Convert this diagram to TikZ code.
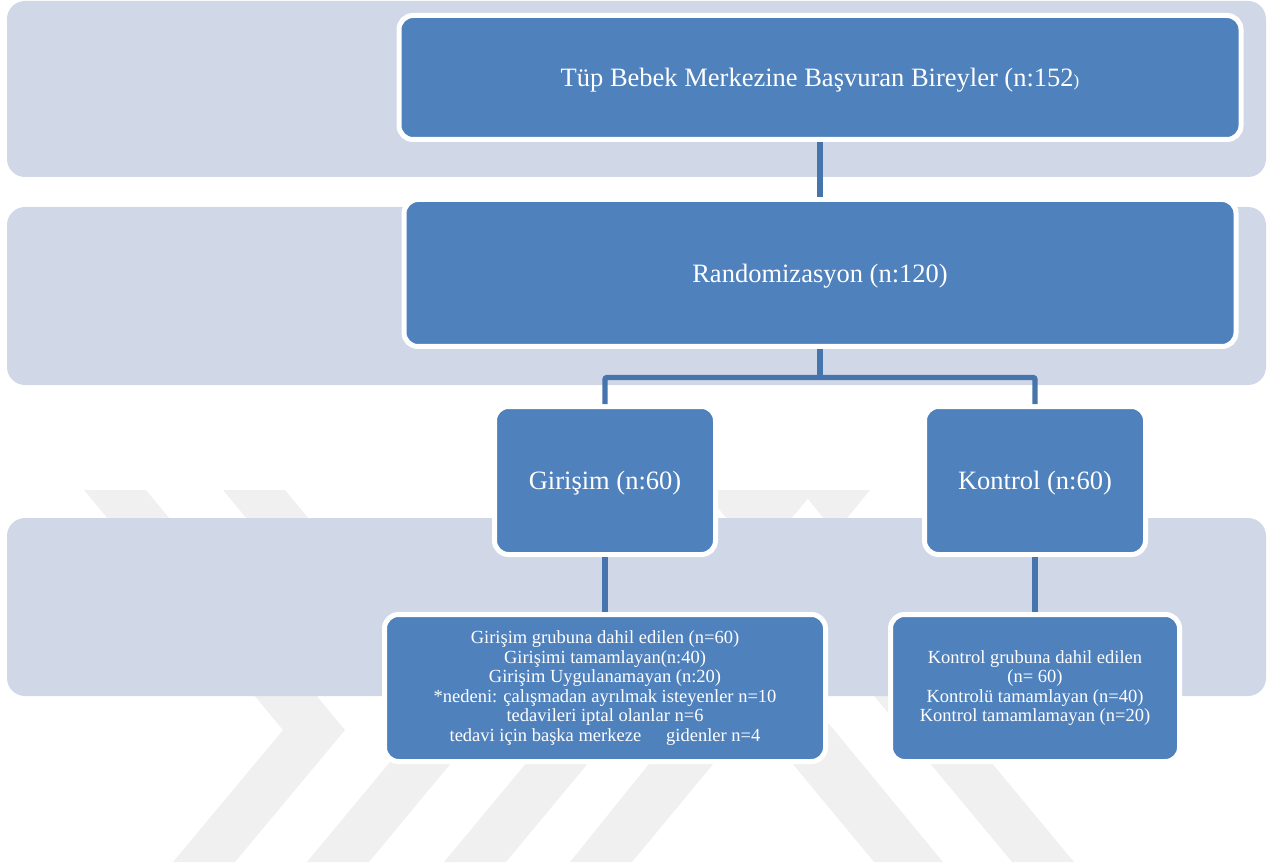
\documentclass[tikz,border=0pt]{standalone}
\usepackage{fontspec}
\setmainfont{Liberation Serif}
\definecolor{bandfill}{HTML}{D0D8E8}
\definecolor{boxblue}{HTML}{4F81BD}
\definecolor{linkblue}{HTML}{4674AC}
\definecolor{markgray}{HTML}{F0F0F0}
\tikzset{
  band/.style={fill=bandfill, rounded corners=18pt},
  box/.style={rectangle, rounded corners=14pt, fill=boxblue, draw=white,
    line width=5pt, text=white, align=center, inner sep=0pt},
  blk/.style={box, text depth=0pt, font=\fontsize{26.5}{30}\selectfont},
  detail/.style={box, font=\fontsize{18.5}{19.6}\selectfont},
  link/.style={draw=linkblue, line width=5.3pt}
}
\begin{document}
\begin{tikzpicture}[x=1pt,y=-1pt]
\useasboundingbox (0,0) rectangle (1271,866);

% faint background emblem made of slanted strokes
\fill[markgray] (84,490) -- (146,490) -- (345,730) -- (235,862) -- (173,862) -- (283,730) -- cycle;
\fill[markgray] (223,490) -- (285,490) -- (481,727) -- (369,862) -- (307,862) -- (419,727) -- cycle;
\fill[markgray] (444,862) -- (506,862) -- (815,490) -- (753,490) -- cycle;
\fill[markgray] (570,862) -- (632,862) -- (870,575) -- (835,533) -- cycle;
\fill[markgray] (874,862) -- (943,862) -- (740,616) -- (705,658) -- cycle;
\fill[markgray] (1012,862) -- (1074,862) -- (765,490) -- (703,490) -- cycle;
\fill[markgray] (801,490) -- (870,490) -- (835,533) -- cycle;

% horizontal level bands
\fill[band] (7,1) rectangle (1266,177);
\fill[band] (7,207) rectangle (1266,385);
\fill[band] (7,518) rectangle (1266,696);

% boxes
\node[blk, minimum width=842pt, minimum height=124pt] (tub) at (820,77.5)
  {Tüp Bebek Merkezine Başvuran Bireyler (n:152{\fontsize{17}{20}\selectfont)}};
\node[blk, minimum width=832pt, minimum height=147pt] (rand) at (820,273)
  {Randomizasyon (n:120)};
\node[blk, minimum width=221pt, minimum height=148pt] (gir) at (605,480.5)
  {Girişim (n:60)};
\node[blk, minimum width=221pt, minimum height=148pt] (kon) at (1035,480.5)
  {Kontrol (n:60)};
\node[detail, minimum width=441pt, minimum height=147pt] (girD) at (605,688)
  {Girişim grubuna dahil edilen (n=60)\\
   Girişimi tamamlayan(n:40)\\
   Girişim Uygulanamayan (n:20)\\
   *nedeni: çalışmadan ayrılmak isteyenler n=10\\
   tedavileri iptal olanlar n=6\\
   tedavi için başka merkeze\hspace{1.1em} gidenler n=4};
\node[detail, minimum width=289pt, minimum height=147pt] (konD) at (1035,688)
  {Kontrol grubuna dahil edilen\\
   (n= 60)\\
   Kontrolü tamamlayan (n=40)\\
   Kontrol tamamlamayan (n=20)};

% connectors
\coordinate (fork) at (820,377.5);
\draw[link] (tub.south) -- (rand.north);
\draw[link] (rand.south) -- (fork);
\draw[link, rounded corners=2pt] (gir.north) |- (fork) -| (kon.north);
\draw[link] (gir.south) -- (girD.north);
\draw[link] (kon.south) -- (konD.north);
\end{tikzpicture}
\end{document}
